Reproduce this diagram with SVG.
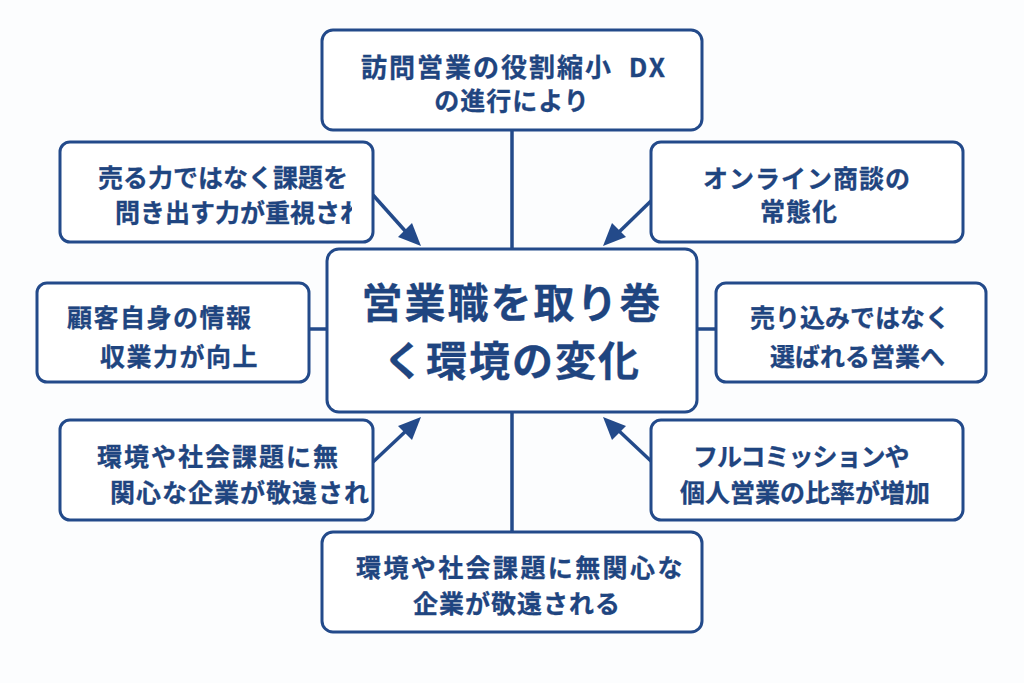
<svg xmlns="http://www.w3.org/2000/svg" width="1024" height="683" viewBox="0 0 1024 683">
  <style>
    .box { fill: #ffffff; stroke: #234a8a; stroke-width: 3; }
    .t { font-family: "Noto Sans CJK JP", "Noto Sans", sans-serif; font-weight: 700; fill: #1f4580; stroke: #1f4580; stroke-width: 0.3; }
    .s { font-size: 25px; }
    .big { font-size: 41px; letter-spacing: 2px; }
    .line { stroke: #234a8a; stroke-width: 3.5; fill: none; }
  </style>
  <defs>
    <clipPath id="clipTL"><rect x="60" y="142" width="292" height="100"/></clipPath>
  </defs>
  <rect width="1024" height="683" fill="#fcfdfe"/>

  <g id="connectors">
    <line class="line" x1="512" y1="130" x2="512" y2="250"/>
    <line class="line" x1="512" y1="412" x2="512" y2="532"/>
    <line class="line" x1="309" y1="329" x2="328" y2="329"/>
    <line class="line" x1="697" y1="329" x2="716" y2="329"/>
    <path class="line" d="M373,195 L407,233"/>
    <path d="M421,246 L398,237 L412,223 z" fill="#234a8a"/>
    <path class="line" d="M652,200 L618,233"/>
    <path d="M603,246 L612,223 L626,237 z" fill="#234a8a"/>
    <path class="line" d="M373,462 L407,430"/>
    <path d="M421,417 L412,440 L398,426 z" fill="#234a8a"/>
    <path class="line" d="M652,462 L618,430"/>
    <path d="M603,417 L626,426 L612,440 z" fill="#234a8a"/>
  </g>

  <g id="node-top">
    <rect class="box" x="322" y="30" width="380" height="100" rx="11"/>
    <text class="t" x="514" y="77" font-size="26" text-anchor="middle" letter-spacing="2">訪問営業の役割縮小&#160;&#160;DX</text>
    <text class="t s" x="512" y="110" text-anchor="middle" letter-spacing="1">の進行により</text>
  </g>

  <g id="node-center">
    <rect class="box" x="327" y="249" width="370" height="163" rx="12"/>
    <text class="t big" x="512" y="318" text-anchor="middle">営業職を取り巻</text>
    <text class="t big" x="512" y="376" text-anchor="middle">く環境の変化</text>
  </g>

  <g id="node-top-left">
    <rect class="box" x="60" y="142" width="313" height="100" rx="10"/>
    <text class="t s" x="98" y="187">売る力ではなく課題を</text>
    <text class="t s" x="115" y="222" clip-path="url(#clipTL)">問き出す力が重視され</text>
  </g>

  <g id="node-top-right">
    <rect class="box" x="651" y="142" width="312" height="100" rx="10"/>
    <text class="t s" x="703" y="188" letter-spacing="1">オンライン商談の</text>
    <text class="t s" x="760" y="221" letter-spacing="1">常態化</text>
  </g>

  <g id="node-left">
    <rect class="box" x="37" y="283" width="272" height="99" rx="10"/>
    <text class="t s" x="67" y="327" letter-spacing="1.5">顧客自身の情報</text>
    <text class="t s" x="100" y="366" letter-spacing="1.5">収業力が向上</text>
  </g>

  <g id="node-right">
    <rect class="box" x="716" y="283" width="270" height="99" rx="10"/>
    <text class="t s" x="750" y="327">売り込みではなく</text>
    <text class="t s" x="770" y="366">選ばれる営業へ</text>
  </g>

  <g id="node-bottom-left">
    <rect class="box" x="60" y="420" width="313" height="100" rx="10"/>
    <text class="t s" x="97" y="466" letter-spacing="2">環境や社会課題に無</text>
    <text class="t s" x="110" y="502" letter-spacing="1">関心な企業が敬遠され</text>
  </g>

  <g id="node-bottom-right">
    <rect class="box" x="651" y="420" width="312" height="100" rx="10"/>
    <text class="t s" x="693" y="466" letter-spacing="-1">フルコミッションや</text>
    <text class="t s" x="680" y="502">個人営業の比率が増加</text>
  </g>

  <g id="node-bottom">
    <rect class="box" x="322" y="532" width="380" height="100" rx="11"/>
    <text class="t s" x="356" y="577" letter-spacing="2.4">環境や社会課題に無関心な</text>
    <text class="t s" x="413" y="613" letter-spacing="1">企業が敬遠される</text>
  </g>
</svg>
